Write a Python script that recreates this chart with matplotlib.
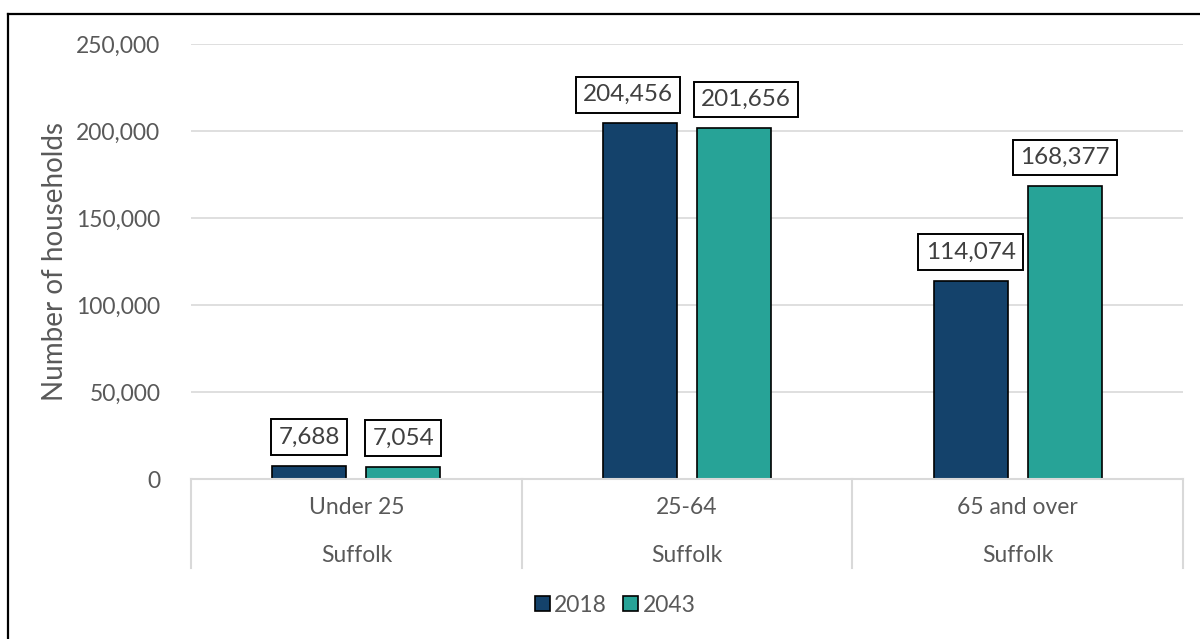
import numpy as np
import matplotlib.pyplot as plt
import matplotlib.transforms as mtransforms
from matplotlib.lines import Line2D

plt.rcParams['font.family'] = ['Lato', 'DejaVu Sans']

categories = ['Under 25', '25-64', '65 and over']
region = 'Suffolk'
years = ['2018', '2043']
values_2018 = [7688, 204456, 114074]
values_2043 = [7054, 201656, 168377]
colors = ['#14426b', '#27a397']
yticks = [0, 50000, 100000, 150000, 200000, 250000]

# horizontal nudge (pixels) of data labels so neighbouring boxes don't overlap
label_nudge = [[0, -12, 0], [0, 12, 0]]

W, H = 1200, 639
fig = plt.figure(figsize=(W / 100, H / 100), dpi=100)
ax = fig.add_axes([191 / W, (H - 479) / H, (1183 - 191) / W, (479 - 44) / H])

x = np.arange(len(categories))
bw = 0.224
off = 0.142
gray = '#595959'

bars = []
for i, (vals, col, lab) in enumerate(zip([values_2018, values_2043], colors, years)):
    xs = x + (2 * i - 1) * off
    b = ax.bar(xs, vals, bw, color=col, edgecolor='black',
               linewidth=1.2, label=lab, zorder=3)
    bars.append(b)
    for xi, v, dx in zip(xs, vals, label_nudge[i]):
        ax.annotate(f'{v:,}', (xi, v), xytext=(dx, 18), textcoords='offset pixels',
                    ha='center', va='bottom', fontsize=17.5, color='#404040', zorder=5,
                    bbox=dict(boxstyle='square,pad=0.3', fc='white', ec='black', lw=1.4))

ax.set_xlim(-0.5, len(categories) - 0.5)
ax.set_ylim(0, 250000)
ax.set_yticks(yticks)
ax.set_yticklabels([f'{v:,}' for v in yticks], fontsize=16.5, color=gray)
ax.tick_params(axis='y', length=0, pad=22)
ax.grid(axis='y', color='#d9d9d9', lw=1.2, zorder=0)
ax.set_ylabel('Number of households', fontsize=20, color=gray, labelpad=6)
for s in ax.spines.values():
    s.set_visible(False)
ax.set_xticks([])

# multi-level category axis
trans = mtransforms.blended_transform_factory(ax.transData, ax.transAxes)
ph = 479 - 44
depth = (568 - 479) / ph
ax.plot([-0.5, len(categories) - 0.5], [0, 0], transform=trans, color='#d9d9d9',
        lw=1.5, clip_on=False, zorder=4)
for xs in np.arange(len(categories) + 1) - 0.5:
    ax.plot([xs, xs], [0, -depth], transform=trans, color='#d9d9d9', lw=1.5, clip_on=False)
for xi, c in zip(x, categories):
    ax.text(xi, -(508 - 479) / ph, c, transform=trans, ha='center', va='center',
            fontsize=16.5, color=gray)
    ax.text(xi, -(555 - 479) / ph, region, transform=trans, ha='center', va='center',
            fontsize=16.5, color=gray)

fig.legend(handles=bars, labels=years, loc='center', bbox_to_anchor=(615 / W, (H - 605) / H),
           ncol=2, frameon=False, fontsize=16.5, labelcolor=gray, handlelength=0.65,
           handleheight=0.65, handletextpad=0.2, columnspacing=0.7)

# chart border (partly cut off)
fig.add_artist(Line2D([8 / W, 8 / W], [0, (H - 14) / H], color='black', lw=1.6))
fig.add_artist(Line2D([8 / W, 1], [(H - 14) / H, (H - 14) / H], color='black', lw=1.6))

fig.savefig('out.png', dpi=100)
